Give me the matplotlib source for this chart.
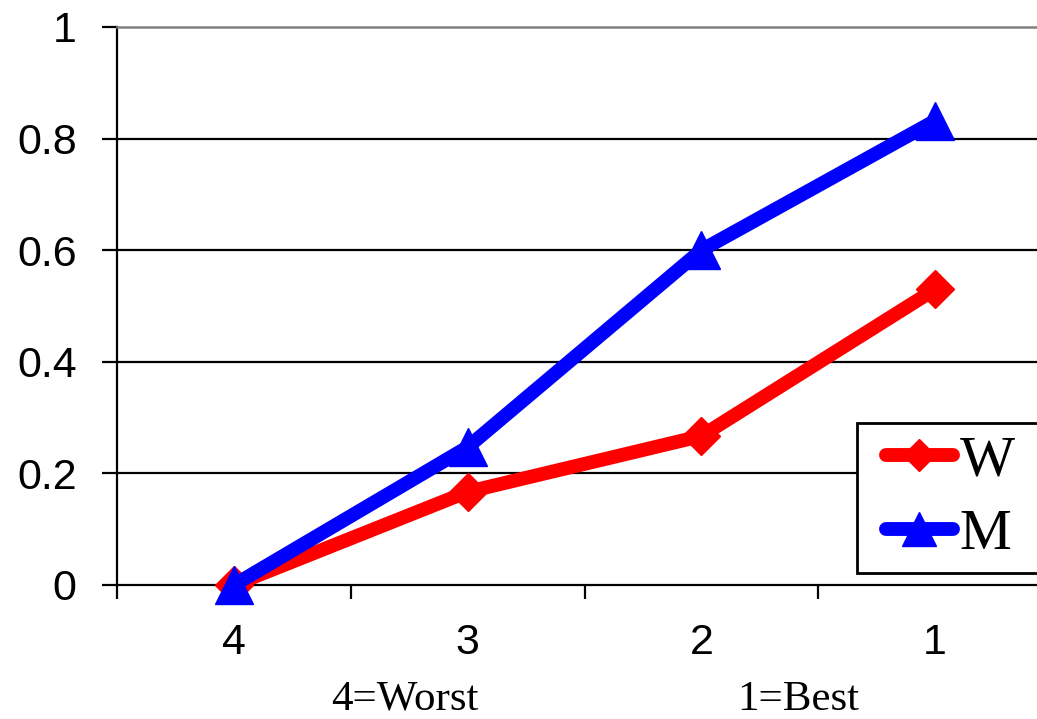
import numpy as np
import matplotlib
matplotlib.use("Agg")
import matplotlib.pyplot as plt
from matplotlib.lines import Line2D
from matplotlib.legend_handler import HandlerLine2D
from matplotlib.patches import Rectangle

# rank categories, shown from worst to best
ranks = ["4", "3", "2", "1"]
w_vals = [0.0, 0.167, 0.267, 0.53]
m_vals = [0.0, 0.247, 0.6, 0.832]
y_ticks = [0, 0.2, 0.4, 0.6, 0.8, 1]
y_labels = ["0", "0.2", "0.4", "0.6", "0.8", "1"]

fig = plt.figure(figsize=(10.37, 7.19), dpi=100)
ax = fig.add_axes([117 / 1037, 134 / 719, 935 / 1037, 558 / 719])

x = np.arange(len(ranks))
ax.plot(x, w_vals, color="#ff0000", lw=10, marker="D", ms=19,
        solid_capstyle="round", zorder=3, clip_on=False)
ax.plot(x, m_vals, color="#0000ff", lw=10, marker="^", ms=28,
        solid_capstyle="round", zorder=4, clip_on=False)

ax.set_xlim(-0.5, 3.5)
ax.set_ylim(0, 1)

# horizontal gridlines
for yv in y_ticks[1:-1]:
    ax.axhline(yv, color="black", lw=1.6, zorder=1)

ax.spines["right"].set_visible(False)
ax.spines["top"].set_color("#808080")
ax.spines["top"].set_linewidth(1.8)
ax.spines["left"].set_linewidth(1.6)
ax.spines["bottom"].set_linewidth(1.6)

ax.set_yticks(y_ticks)
ax.set_yticklabels(y_labels, fontsize=31, family="Liberation Sans")
ax.tick_params(axis="y", length=11, width=1.6, pad=18)

# category boundaries get the tick marks, labels sit in the middle
ax.set_xticks(np.arange(-0.5, 4.0, 1.0))
ax.set_xticklabels([])
ax.tick_params(axis="x", which="major", length=10, width=1.6)
ax.set_xticks(x, minor=True)
ax.set_xticklabels(ranks, minor=True, fontsize=31, family="Liberation Sans")
ax.tick_params(axis="x", which="minor", length=0, pad=27)

fig.text(405 / 1037, 1 - 710 / 719, "4=Worst", ha="center", va="baseline",
         fontsize=31, family="Liberation Serif")
fig.text(798 / 1037, 1 - 710 / 719, "1=Best", ha="center", va="baseline",
         fontsize=31, family="Liberation Serif")

# legend keys: short line with the marker in the middle
h_w = Line2D([], [], color="#ff0000", lw=10, marker="D", ms=16,
             solid_capstyle="round")
h_m = Line2D([], [], color="#0000ff", lw=10, marker="^", ms=24,
             solid_capstyle="round")
leg = fig.legend([h_w, h_m], ["W", "M"], loc="upper left",
                 bbox_to_anchor=(857 / 1037, 1 - 423 / 719),
                 frameon=False,
                 prop={"family": "Liberation Serif", "size": 42},
                 handlelength=1.44, handletextpad=0.12, borderpad=0.2,
                 labelspacing=0.36, borderaxespad=0,
                 handler_map={h_w: HandlerLine2D(xpad=0.3),
                              h_m: HandlerLine2D(xpad=0.3)})

# legend box runs off the right edge of the figure
box = Rectangle((857 / 1037, 146 / 719), 0.3, 150 / 719,
                transform=fig.transFigure, fill=True, facecolor="white",
                edgecolor="black", lw=2, zorder=4)
fig.patches.append(box)
leg.set_zorder(5)

fig.savefig("out.png", dpi=100)
